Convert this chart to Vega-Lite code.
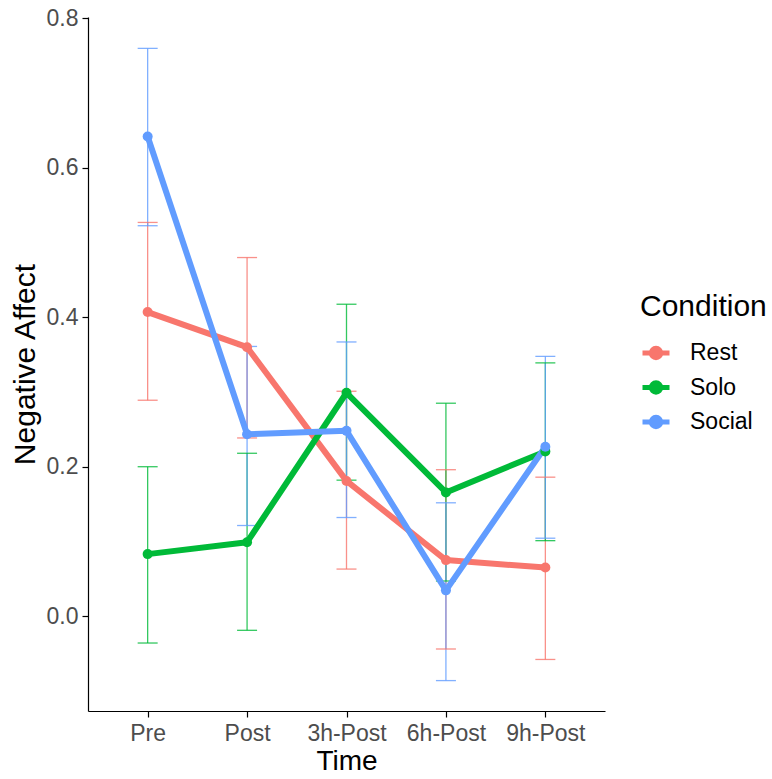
{
  "$schema": "https://vega.github.io/schema/vega-lite/v6.json",
  "autosize": "none",
  "width": 517,
  "height": 694,
  "padding": {"left": 88, "top": 17, "right": 167, "bottom": 68},
  "background": "white",
  "config": {
    "font": "Liberation Sans",
    "view": {"stroke": null},
    "axis": {
      "grid": false,
      "domainColor": "#000000",
      "domainWidth": 1.2,
      "tickColor": "#000000",
      "tickWidth": 1.2,
      "tickSize": 6,
      "labelColor": "#4D4D4D",
      "labelFontSize": 23,
      "labelFont": "Liberation Sans",
      "titleFont": "Liberation Sans",
      "titleFontSize": 30,
      "titleFontWeight": "normal",
      "titleColor": "#000000"
    }
  },
  "data": {
    "values": [
      {"Time": "Pre", "Condition": "Rest", "mean": 0.407, "lo": 0.289, "hi": 0.527},
      {"Time": "Post", "Condition": "Rest", "mean": 0.360, "lo": 0.2385, "hi": 0.480},
      {"Time": "3h-Post", "Condition": "Rest", "mean": 0.181, "lo": 0.063, "hi": 0.301},
      {"Time": "6h-Post", "Condition": "Rest", "mean": 0.075, "lo": -0.044, "hi": 0.196},
      {"Time": "9h-Post", "Condition": "Rest", "mean": 0.065, "lo": -0.058, "hi": 0.186},
      {"Time": "Pre", "Condition": "Solo", "mean": 0.083, "lo": -0.036, "hi": 0.200},
      {"Time": "Post", "Condition": "Solo", "mean": 0.099, "lo": -0.019, "hi": 0.218},
      {"Time": "3h-Post", "Condition": "Solo", "mean": 0.299, "lo": 0.182, "hi": 0.4175},
      {"Time": "6h-Post", "Condition": "Solo", "mean": 0.1655, "lo": 0.047, "hi": 0.285},
      {"Time": "9h-Post", "Condition": "Solo", "mean": 0.2205, "lo": 0.101, "hi": 0.339},
      {"Time": "Pre", "Condition": "Social", "mean": 0.642, "lo": 0.5226, "hi": 0.760},
      {"Time": "Post", "Condition": "Social", "mean": 0.2434, "lo": 0.1213, "hi": 0.361},
      {"Time": "3h-Post", "Condition": "Social", "mean": 0.248, "lo": 0.132, "hi": 0.367},
      {"Time": "6h-Post", "Condition": "Social", "mean": 0.0345, "lo": -0.0863, "hi": 0.1517},
      {"Time": "9h-Post", "Condition": "Social", "mean": 0.2268, "lo": 0.1043, "hi": 0.3477}
    ]
  },
  "encoding": {
    "x": {
      "field": "Time",
      "type": "nominal",
      "sort": ["Pre", "Post", "3h-Post", "6h-Post", "9h-Post"],
      "scale": {"type": "point", "padding": 0.6},
      "axis": {"title": "Time", "labelAngle": 0, "labelPadding": 5, "titlePadding": 2, "titleFontSize": 28}
    },
    "color": {
      "field": "Condition",
      "type": "nominal",
      "scale": {"domain": ["Rest", "Solo", "Social"], "range": ["#F8766D", "#00BA38", "#619CFF"]},
      "legend": {
        "title": "Condition",
        "orient": "none",
        "legendX": 552,
        "legendY": 275,
        "titleFontSize": 30,
        "titleFontWeight": "normal",
        "titleColor": "#000000",
        "titleFont": "Liberation Sans",
        "titlePadding": 15,
        "labelFontSize": 23,
        "labelColor": "#000000",
        "labelFont": "Liberation Sans",
        "labelOffset": 18,
        "rowPadding": 3.5,
        "symbolType": "M-1,0L1,0M0.35,0A0.35,0.35 0 1 1 -0.35,0A0.35,0.35 0 1 1 0.35,0Z",
        "symbolSize": 729,
        "symbolStrokeWidth": 5,
        "symbolOpacity": 1,
        "encode": {
          "symbols": {
            "update": {
              "stroke": {"scale": "color", "field": "value"},
              "fill": {"scale": "color", "field": "value"},
              "strokeWidth": {"value": 5},
              "opacity": {"value": 1}
            }
          }
        }
      }
    }
  },
  "layer": [
    {
      "mark": {"type": "rule", "strokeWidth": 1.3, "opacity": 0.8},
      "encoding": {
        "y": {
          "field": "lo",
          "type": "quantitative",
          "scale": {"domain": [-0.127, 0.802], "nice": false, "zero": false},
          "axis": {"title": "Negative Affect", "values": [0, 0.2, 0.4, 0.6, 0.8], "format": ".1f", "labelPadding": 4, "titlePadding": 6}
        },
        "y2": {"field": "hi"}
      }
    },
    {
      "mark": {"type": "tick", "orient": "horizontal", "size": 20, "thickness": 1.3, "opacity": 0.8},
      "encoding": {"y": {"field": "lo", "type": "quantitative"}}
    },
    {
      "mark": {"type": "tick", "orient": "horizontal", "size": 20, "thickness": 1.3, "opacity": 0.8},
      "encoding": {"y": {"field": "hi", "type": "quantitative"}}
    },
    {
      "mark": {"type": "line", "strokeWidth": 6, "strokeJoin": "round"},
      "encoding": {"y": {"field": "mean", "type": "quantitative"}}
    },
    {
      "mark": {"type": "point", "filled": true, "opacity": 1, "size": 100, "shape": "circle"},
      "encoding": {"y": {"field": "mean", "type": "quantitative"}}
    }
  ]
}
